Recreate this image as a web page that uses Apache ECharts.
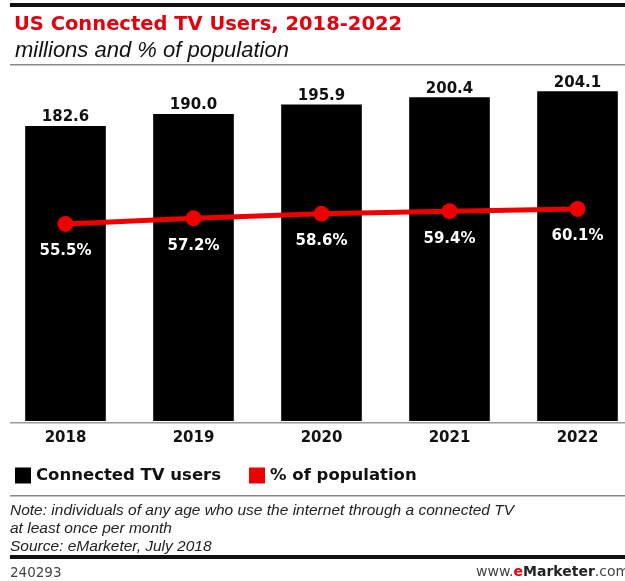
<!DOCTYPE html>
<html>
<head>
<meta charset="utf-8">
<title>US Connected TV Users, 2018-2022</title>
<script src="https://cdn.jsdelivr.net/npm/echarts@6/dist/echarts.min.js"></script>
<style>
  html, body { margin: 0; padding: 0; background: #fff; }
  #chart { width: 625px; height: 581px; }
</style>
</head>
<body>
<div id="chart"></div>
<script>
var years = ['2018', '2019', '2020', '2021', '2022'];
var tvUsers = [182.6, 190.0, 195.9, 200.4, 204.1];
var popShare = [55.5, 57.2, 58.6, 59.4, 60.1];

var chart = echarts.init(document.getElementById('chart'));
var bold = '"DejaVu Sans", Verdana, sans-serif';
var light = '"Liberation Sans", Arial, sans-serif';

var option = {
    backgroundColor: '#fff',
    animation: false,
    textStyle: { fontFamily: bold },
    title: [{
        text: 'US Connected TV Users, 2018-2022',
        left: 9, top: 10,
        textStyle: { color: '#e3000f', fontSize: 19.5, fontWeight: 'bold', fontFamily: bold }
    }, {
        text: 'millions and % of population',
        left: 10, top: 35,
        textStyle: { color: '#111', fontSize: 22, fontStyle: 'italic', fontWeight: 'normal', fontFamily: light }
    }],
    legend: {
        left: 10, top: 462,
        itemWidth: 16, itemHeight: 16, itemGap: 28,
        textStyle: { fontSize: 16.5, fontWeight: 'bold', color: '#111', fontFamily: bold },
        data: [
            { name: 'Connected TV users', icon: 'rect', itemStyle: { color: '#000' } },
            { name: '% of population', icon: 'rect', itemStyle: { color: '#ee0000' } }
        ]
    },
    grid: { left: 1.5, width: 640, top: 17, bottom: 160, outerBoundsMode: 'none' },
    xAxis: {
        type: 'category',
        data: years,
        axisLine: { show: false },
        axisTick: { show: false },
        axisLabel: { margin: 10, fontSize: 15, fontWeight: 'bold', color: '#111', fontFamily: bold }
    },
    yAxis: [{
        type: 'value', min: 0, max: 250, show: false
    }, {
        type: 'value', min: -5, max: 119, show: false
    }],
    graphic: [
        { type: 'rect', shape: { x: 10, y: 3, width: 615, height: 4 }, style: { fill: '#111' } },
        { type: 'rect', shape: { x: 10, y: 64, width: 615, height: 1.5 }, style: { fill: '#888' } },
        { type: 'rect', shape: { x: 10, y: 422, width: 615, height: 1.5 }, style: { fill: '#999' } },
        { type: 'rect', shape: { x: 10, y: 495, width: 615, height: 1.5 }, style: { fill: '#888' } },
        { type: 'text', left: 10, top: 503, style: { text: 'Note: individuals of any age who use the internet through a connected TV', fill: '#222', font: 'italic 15.5px ' + light } },
        { type: 'text', left: 10, top: 521, style: { text: 'at least once per month', fill: '#222', font: 'italic 15.5px ' + light } },
        { type: 'text', left: 10, top: 539, style: { text: 'Source: eMarketer, July 2018', fill: '#222', font: 'italic 15.5px ' + light } },
        { type: 'rect', shape: { x: 10, y: 555, width: 615, height: 4 }, style: { fill: '#111' } },
        { type: 'text', left: 10, top: 566, style: { text: '240293', fill: '#444', font: '13.5px ' + bold } },
        { type: 'text', left: 476, top: 565, style: {
            text: '{a|www.}{b|e}{c|Marketer}{a|.com}',
            rich: {
                a: { fill: '#444', font: '14px ' + bold },
                b: { fill: '#e3000f', font: 'bold 14px ' + bold },
                c: { fill: '#222', font: 'bold 14px ' + bold }
            }
        } }
    ],
    series: [{
        name: 'Connected TV users',
        type: 'bar',
        data: tvUsers,
        barCategoryGap: '37%',
        itemStyle: { color: '#000' },
        label: {
            show: true, position: 'top', distance: 1,
            formatter: function (p) { return p.value.toFixed(1); },
            fontSize: 15, fontWeight: 'bold', color: '#111', fontFamily: bold
        }
    }, {
        name: '% of population',
        type: 'line',
        yAxisIndex: 1,
        data: popShare,
        symbol: 'circle',
        symbolSize: 16,
        lineStyle: { color: '#ee0000', width: 5 },
        itemStyle: { color: '#ee0000' },
        label: {
            show: true, position: 'bottom', distance: 12,
            formatter: function (p) { return p.value.toFixed(1) + '%'; },
            fontSize: 15, fontWeight: 'bold', color: '#fff', fontFamily: bold
        }
    }]
};
chart.setOption(option);
</script>
</body>
</html>
